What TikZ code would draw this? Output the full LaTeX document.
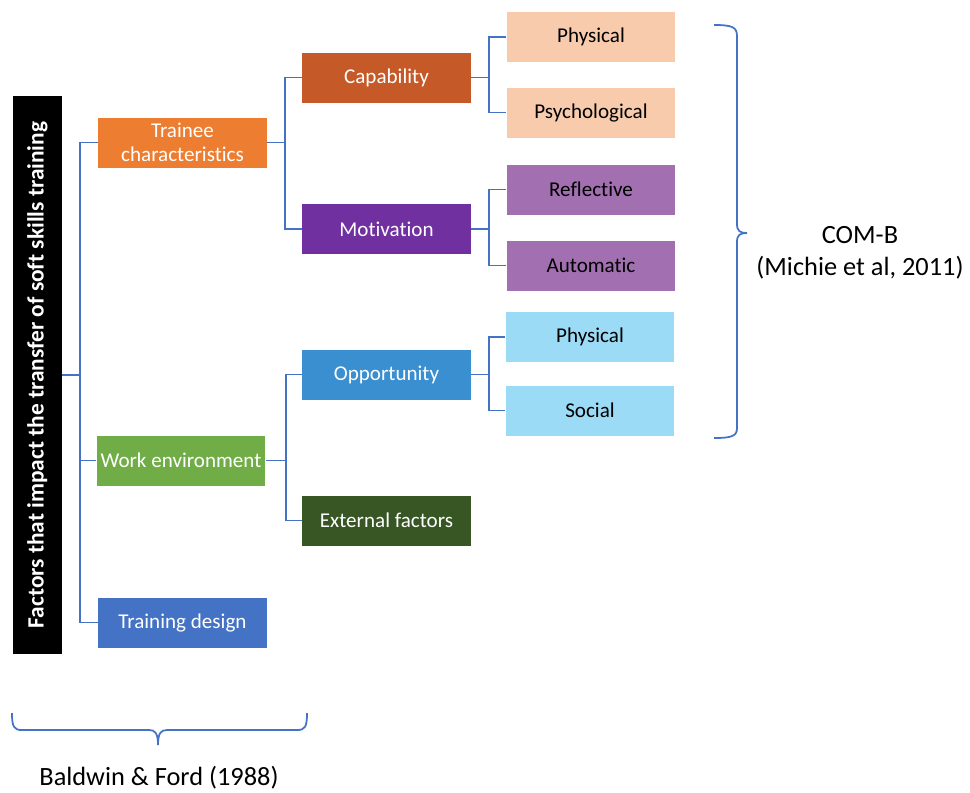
\documentclass[tikz,border=0pt]{standalone}
\usepackage{fontspec}
\setmainfont{Carlito}[Ligatures=NoCommon]
\usetikzlibrary{positioning}

\definecolor{conncol}{HTML}{4472C4}
\definecolor{traineecol}{HTML}{ED7D31}
\definecolor{workcol}{HTML}{70AD47}
\definecolor{designcol}{HTML}{4472C4}
\definecolor{capcol}{HTML}{C55A28}
\definecolor{motcol}{HTML}{7030A0}
\definecolor{oppcol}{HTML}{3A8FD0}
\definecolor{extcol}{HTML}{375623}
\definecolor{capsubcol}{HTML}{F8CBAD}
\definecolor{motsubcol}{HTML}{A270B0}
\definecolor{oppsubcol}{HTML}{9BDBF5}

\tikzset{
  boite/.style={rectangle, minimum width=3.38cm, minimum height=1cm, inner sep=1pt,
    align=center, font=\fontsize{12}{13.5}\selectfont},
  sombre/.style={boite, text=white},
  clair/.style={boite, text=black},
  lien/.style={draw=conncol, line width=1pt},
}

\begin{document}
\begin{tikzpicture}[x=0.02cm,y=-0.02cm]
\useasboundingbox (0,0) rectangle (970,792);

%barre noire
\node[fill=black, text=white, minimum width=0.98cm, minimum height=11.16cm, inner sep=0pt,
  font=\bfseries\fontsize{13.3}{15}\selectfont] (barre) at (37.5,375)
  {\rotatebox{90}{Factors that impact the transfer of soft skills training}};

%premier niveau
\node[sombre, fill=traineecol] (trainee) at (182.5,142.5) {Trainee\\characteristics};
\node[sombre, fill=workcol] (travail) at (181,460.5) {Work environment};
\node[sombre, fill=designcol] (design) at (182.5,622.5) {Training design};

%deuxieme niveau
\node[sombre, fill=capcol] (capacite) at (386.5,77.5) {Capability};
\node[sombre, fill=motcol] (motivation) at (386.5,229) {Motivation};
\node[sombre, fill=oppcol] (opport) at (386.5,374.5) {Opportunity};
\node[sombre, fill=extcol] (externe) at (386.5,520.5) {External factors};

%troisieme niveau
\node[clair, fill=capsubcol] (physA) at (591,37) {Physical};
\node[clair, fill=capsubcol] (psycho) at (591,112.5) {Psychological};
\node[clair, fill=motsubcol] (reflex) at (591,189.5) {Reflective};
\node[clair, fill=motsubcol] (auto) at (591,265.5) {Automatic};
\node[clair, fill=oppsubcol] (physB) at (590,337) {Physical};
\node[clair, fill=oppsubcol] (social) at (590,410.5) {Social};

%liens barre
\draw[lien] (barre.east) -- ++(18,0) coordinate (j0);
\draw[lien] (j0) |- (trainee.west);
\draw[lien] (j0) |- (travail.west);
\draw[lien] (j0) |- (design.west);

%liens trainee
\draw[lien] (trainee.east) -- ++(18,0) coordinate (j1);
\draw[lien] (j1) |- (capacite.west);
\draw[lien] (j1) |- (motivation.west);

%liens work environment
\draw[lien] (travail.east) -- ++(20,0) coordinate (j2);
\draw[lien] (j2) |- (opport.west);
\draw[lien] (j2) |- (externe.west);

%liens capability
\draw[lien] (capacite.east) -- ++(18,0) coordinate (j3);
\draw[lien] (j3) |- (physA.west);
\draw[lien] (j3) |- (psycho.west);

%liens motivation
\draw[lien] (motivation.east) -- ++(18,0) coordinate (j4);
\draw[lien] (j4) |- (reflex.west);
\draw[lien] (j4) |- (auto.west);

%liens opportunity
\draw[lien] (opport.east) -- ++(18,0) coordinate (j5);
\draw[lien] (j5) |- (physB.west);
\draw[lien] (j5) |- (social.west);

%accolade COM-B
\draw[lien] (714,25) .. controls (732,25) and (737,27) .. (737,36) -- (737,224)
  .. controls (737,231) and (740,233) .. (747,233)
  .. controls (740,233) and (737,235) .. (737,242) -- (737,428)
  .. controls (737,436) and (732,438) .. (714,438);
\node[align=center, font=\fontsize{15}{18}\selectfont] (comb) at (860,253)
  {COM-B\\(Michie et al, 2011)};

%accolade Baldwin
\draw[lien] (12,713) .. controls (12,727) and (14,730) .. (22,730) -- (149,730)
  .. controls (155,730) and (158,733) .. (158,745)
  .. controls (158,733) and (161,730) .. (167,730) -- (297,730)
  .. controls (305,730) and (307,727) .. (307,713);
\node[font=\fontsize{15}{17}\selectfont] (baldwin) at (159,778) {Baldwin \& Ford (1988)};

\end{tikzpicture}
\end{document}
